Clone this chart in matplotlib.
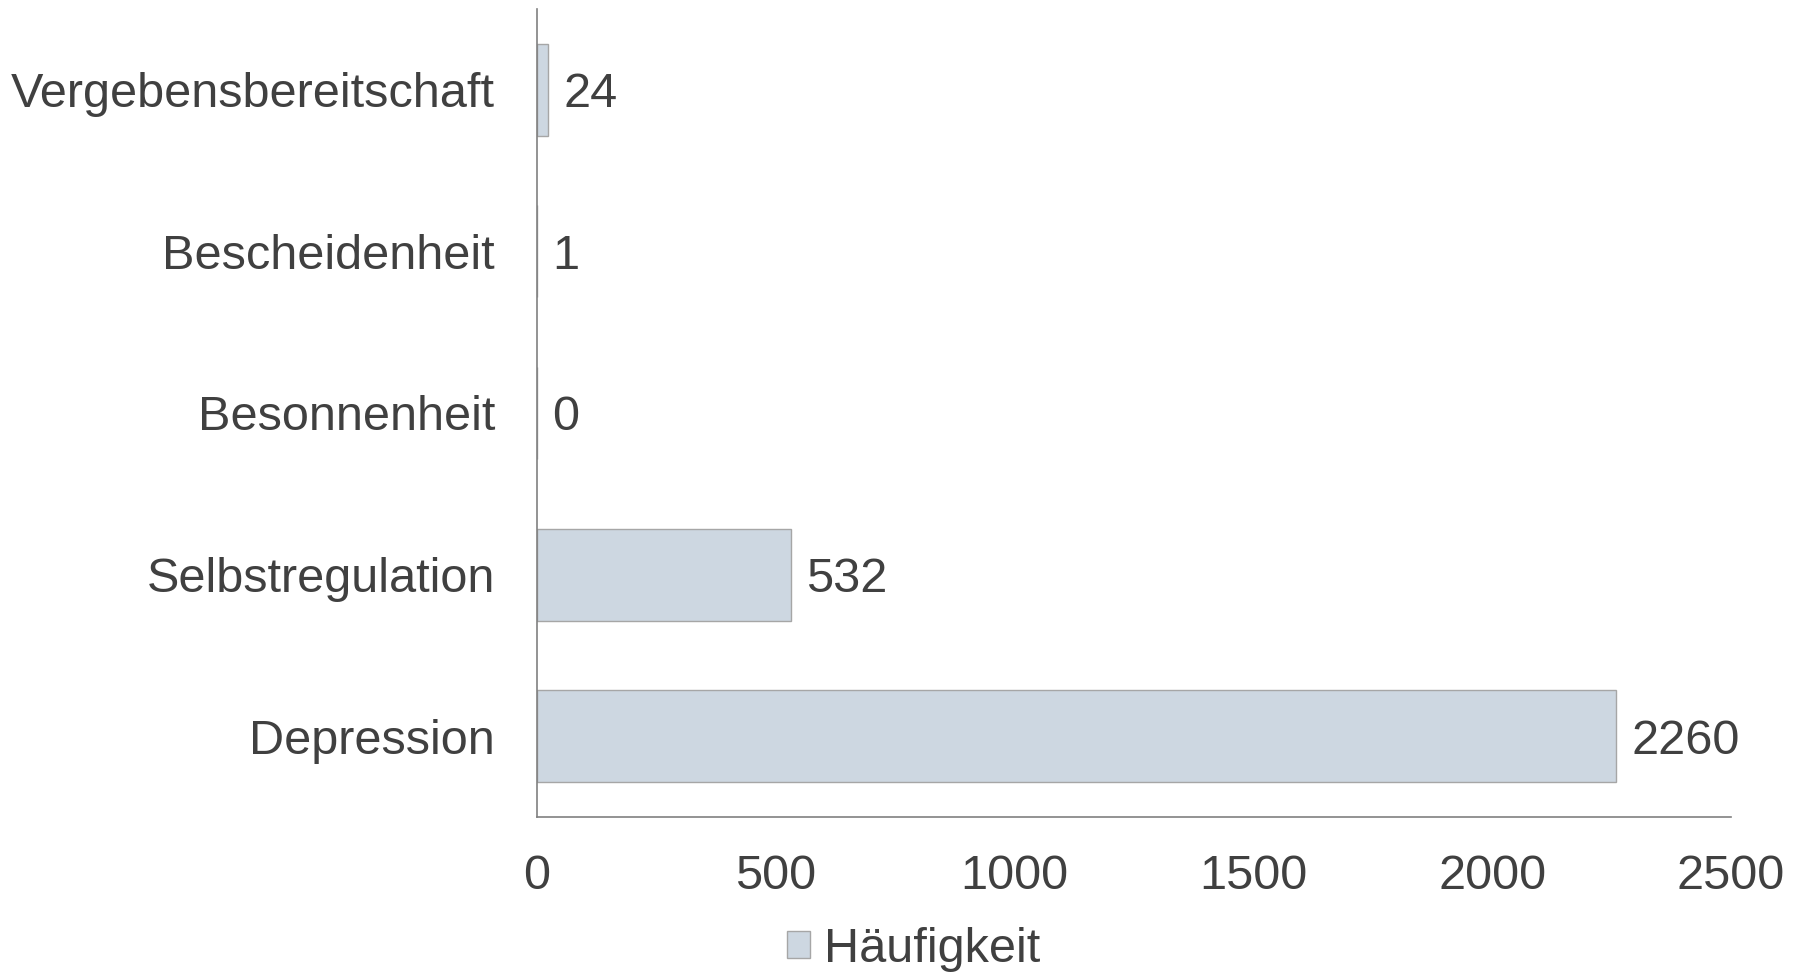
import matplotlib.pyplot as plt

# data
categories = ["Depression", "Selbstregulation", "Besonnenheit", "Bescheidenheit", "Vergebensbereitschaft"]
values = [2260, 532, 0, 1, 24]
xticks = [0, 500, 1000, 1500, 2000, 2500]

plt.rcParams['font.family'] = ['Liberation Sans', 'DejaVu Sans']
text_color = '#404040'
fs = 35

fig = plt.figure(figsize=(18.02, 9.74), dpi=100)
ax = fig.add_axes([0.2978, 0.1612, 0.6628, 0.8296])

bars = ax.barh(categories, values, height=0.57, color='#CDD7E1',
               edgecolor='#A6A6A6', linewidth=1.0, label='Häufigkeit')

# value labels right of each bar
for i, v in enumerate(values):
    ax.annotate(str(v), xy=(v, i), xytext=(11, 0), textcoords='offset points',
                va='center_baseline', ha='left', fontsize=fs, color=text_color)

ax.set_xlim(0, 2500)
ax.set_ylim(-0.5, 4.5)
ax.set_xticks(xticks)
ax.tick_params(axis='both', length=0, labelsize=fs, labelcolor=text_color)
ax.tick_params(axis='x', pad=27)
ax.tick_params(axis='y', pad=30)

for s in ['top', 'right']:
    ax.spines[s].set_visible(False)
for s in ['left', 'bottom']:
    ax.spines[s].set_color('#808080')
    ax.spines[s].set_linewidth(1.2)
    ax.spines[s].set_zorder(3)

# legend at the bottom
fig.legend(loc='center', bbox_to_anchor=(0.507, 25 / 974), frameon=False,
           fontsize=fs, labelcolor=text_color, handlelength=0.47,
           handleheight=0.47, handletextpad=0.3)

fig.savefig('out.png', dpi=100)
